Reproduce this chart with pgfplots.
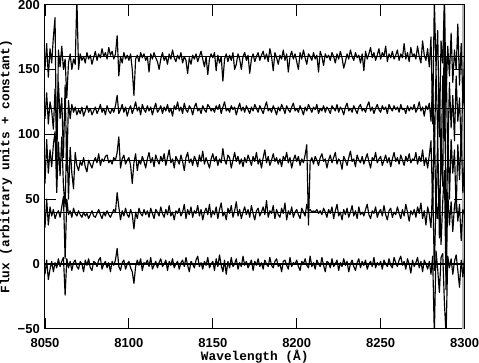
\documentclass[border=0pt]{standalone}
\usepackage{fontspec}
\usepackage{pgfplots}
\usepackage{pgfplotstable}
\pgfplotsset{compat=1.18}
\setmainfont{Liberation Sans}
\newfontfamily\labfont{Liberation Mono}
\newcommand\ticfont{\fontsize{13}{14}\selectfont\bfseries}
\newcommand\lblfont{\fontsize{12.8}{14}\labfont\bfseries}

\pgfplotstableread{
x s0 s1 s2 s3 s4
8050 -8 28 62 112 150
8051 3 50 96 132 170
8052 -12 30 70 108 144
8053 -4 44 88 125 166
8054 2 37 75 118 155
8055 -6 42 92 104 175
8056 1 35 102 135 190
8057 -3 39 55 95 72
8058 4 41 94 140 165
8059 -2 36 68 112 152
8060 2 44 98 128 168
8061 5 52 60 82 150
8062 -24 4 44 138 158
8063 4 50 102 72 128
8064 -3 38 50 126 155
8065 2 41 90 112 162
8066 -5 36 70 123 150
8067 1 43 58 117 158
8068 3 39 86 121 154
8069 -2 37 76 115 205
8070 -4 41 72 119 150
8071 2 38 79 116 162
8072 0 36 76 121 157
8073 -6 40 82 114 160
8074 3 37 75 118 155
8075 -1 39 71 122 163
8076 4 35 80 117 158
8077 -3 38 77 120 161
8078 -5 41 74 115 154
8079 2 37 79 118 159
8080 1 36 82 121 164
8081 -2 39 78 116 157
8082 3 42 85 119 162
8083 5 38 76 123 159
8084 -4 35 81 117 166
8085 0 40 79 120 160
8086 2 37 83 115 163
8087 -3 41 84 122 158
8088 1 38 78 118 167
8089 -6 36 80 116 161
8090 2 39 77 120 164
8091 -1 42 82 117 158
8092 3 40 80 122 162
8093 12 55 86 130 176
8094 -2 44 98 116 145
8095 -5 34 74 119 160
8096 1 41 81 123 155
8097 3 37 84 117 163
8098 -4 43 77 121 158
8099 0 38 80 114 161
8100 2 36 82 119 157
8101 -3 42 76 122 162
8102 -6 38 62 116 150
8103 -15 27 78 120 130
8104 -2 40 85 125 158
8105 3 35 72 118 161
8106 -1 43 80 121 156
8107 4 39 77 115 163
8108 -5 37 83 123 159
8109 1 42 79 119 162
8110 0 38 74 117 157
8111 3 41 81 122 160
8112 -2 36 86 118 148
8113 5 43 78 121 162
8114 -4 39 82 115 158
8115 -1 35 75 120 163
8116 2 42 84 124 159
8117 -3 40 80 117 156
8118 1 37 77 119 150
8119 4 44 83 122 158
8120 -2 39 79 116 163
8121 0 36 85 121 157
8122 3 42 76 118 160
8123 -5 38 82 123 154
8124 2 45 88 117 162
8125 -1 37 78 120 158
8126 4 40 81 114 165
8127 -3 34 74 122 159
8128 0 41 83 119 156
8129 2 39 80 125 161
8130 -4 43 77 118 158
8131 1 37 84 121 163
8132 3 40 79 116 155
8133 -2 46 72 124 160
8134 5 35 82 119 157
8135 -1 42 86 117 147
8136 -6 38 78 122 159
8137 2 44 81 120 154
8138 0 36 76 115 161
8139 -3 41 83 121 158
8140 3 39 80 124 162
8141 6 45 75 118 156
8142 -2 37 84 120 160
8143 1 42 79 116 164
8144 -4 34 87 122 158
8145 2 40 77 119 152
8146 -1 43 82 117 160
8147 5 38 78 123 146
8148 -3 46 74 121 158
8149 0 36 81 118 162
8150 2 41 85 120 159
8151 -5 38 79 117 163
8152 4 44 83 122 149
8153 -2 35 76 119 161
8154 7 42 81 123 155
8155 -1 47 78 116 160
8156 -6 37 89 121 141
8157 3 40 80 125 158
8158 -8 34 77 118 162
8159 2 43 84 120 156
8160 -3 39 82 117 161
8161 5 45 74 122 157
8162 -2 36 80 119 163
8163 0 41 86 121 150
8164 4 48 79 115 154
8165 -4 37 83 120 162
8166 1 42 77 124 158
8167 -2 35 81 118 150
8168 6 40 75 121 160
8169 -1 44 82 117 163
8170 2 38 78 122 157
8171 -3 42 84 119 161
8172 0 36 80 116 147
8173 3 45 76 121 158
8174 -5 39 83 118 162
8175 2 34 79 123 156
8176 -1 41 86 120 160
8177 4 43 77 117 163
8178 -2 37 81 122 157
8179 1 40 74 119 161
8180 -4 44 82 116 164
8181 3 38 88 121 158
8182 0 49 78 125 162
8183 -2 36 83 118 156
8184 5 41 76 120 166
8185 -1 39 80 117 160
8186 -3 45 85 122 149
8187 2 35 79 119 163
8188 4 42 82 115 159
8189 -2 38 77 121 154
8190 0 36 81 118 161
8191 -6 43 75 123 158
8192 2 39 83 120 165
8193 3 47 80 116 157
8194 -1 34 86 122 162
8195 -4 41 78 119 148
8196 5 38 82 117 160
8197 -2 44 74 121 164
8198 1 36 80 124 158
8199 0 40 84 118 162
8200 3 42 79 120 156
8201 -2 38 83 117 150
8202 -5 35 76 122 163
8203 2 43 81 119 158
8204 0 40 78 115 165
8205 4 37 84 121 159
8206 -1 46 92 118 154
8207 -3 41 30 123 162
8208 6 42 79 120 160
8209 -2 40 82 117 157
8210 1 41 77 121 163
8211 -4 40 83 119 158
8212 3 42 80 123 161
8213 0 39 76 116 148
8214 -2 41 82 120 164
8215 5 38 85 118 160
8216 -1 43 79 122 153
8217 -6 40 81 117 162
8218 2 36 74 121 159
8219 1 42 80 119 161
8220 -3 39 84 116 157
8221 4 44 78 122 163
8222 -2 35 82 120 160
8223 0 41 86 118 155
8224 3 46 77 123 162
8225 -5 37 81 117 158
8226 1 40 79 121 164
8227 -2 34 73 119 159
8228 4 42 83 115 151
8229 -1 38 80 121 156
8230 2 43 76 124 162
8231 -6 36 82 118 158
8232 0 40 87 120 165
8233 3 45 79 117 160
8234 -2 37 81 122 157
8235 -5 41 75 119 163
8236 1 35 84 116 159
8237 4 44 80 121 161
8238 -3 38 78 123 155
8239 2 40 83 118 162
8240 -1 37 77 120 149
8241 3 42 81 117 164
8242 -4 46 85 122 158
8243 0 38 79 125 162
8244 2 35 74 118 167
8245 -2 41 82 121 159
8246 5 39 80 116 163
8247 -3 44 86 120 157
8248 1 36 78 123 161
8249 -1 40 81 119 166
8250 2 42 83 117 158
8251 -4 37 76 122 163
8252 3 45 80 119 160
8253 0 38 84 121 168
8254 -2 34 78 116 156
8255 4 41 82 123 162
8256 -1 43 75 120 159
8257 -3 36 81 118 164
8258 5 40 86 122 158
8259 1 38 79 119 161
8260 -2 44 82 121 165
8261 3 39 77 117 157
8262 6 35 84 123 162
8263 -1 42 80 119 159
8264 2 37 76 120 170
8265 -4 46 83 116 158
8266 4 40 79 122 163
8267 0 33 85 118 156
8268 -7 41 78 121 167
8269 3 38 81 119 160
8270 -2 42 80 123 162
8271 1 36 86 117 158
8272 5 44 77 120 168
8273 -3 39 83 125 160
8274 2 47 79 118 155
8275 -6 35 88 121 172
8276 3 41 76 114 161
8277 0 30 82 122 157
8278 -4 44 74 119 166
8279 2 38 84 124 152
8280 -8 28 95 110 175
8281 6 62 45 140 108
8282 -55 -5 110 85 205
8283 10 50 35 150 150
8284 -4 35 100 100 180
8285 -22 58 20 135 98
8286 5 15 92 70 172
8287 8 48 60 145 155
8288 -30 72 200 95 205
8289 -55 -20 -10 160 130
8290 6 55 105 80 168
8291 -3 30 50 140 145
8292 4 48 96 105 178
8293 -8 25 70 130 140
8294 2 45 88 95 165
8295 7 52 40 145 150
8296 -5 33 92 110 185
8297 -18 46 65 128 138
8298 3 18 100 90 170
8299 -10 42 55 135 125
8300 4 38 82 120 160
}\spec

\begin{document}
\begin{tikzpicture}
\begin{axis}[
  width=418bp, height=323bp, scale only axis,
  xmin=8050, xmax=8300, ymin=-50, ymax=200,
  xtick={8050,8100,...,8300},
  ytick={-50,0,50,100,150,200},
  yticklabels={−50,0,50,100,150,200},
  xticklabels={8050,8100,8150,8200,8250,8300},
  tick align=inside,
  major tick length=11bp,
  minor tick num=0,
  tick style={black, line width=0.9bp},
  axis line style={black, line width=1bp},
  tick label style={font=\ticfont},
  /pgf/number format/assume math mode=true,
  xticklabel style={inner sep=0pt, yshift=-9bp},
  yticklabel style={inner sep=0pt, xshift=-5bp},
  xlabel={Wavelength (Å)},
  ylabel={Flux (arbitrary units + constant)},
  label style={font=\lblfont, inner sep=0pt},
  xlabel style={at={(rel axis cs:0.5,-0.064)}, anchor=north},
  ylabel style={at={(rel axis cs:-0.1077,0.5)}, anchor=north},
  clip=true,
]
\draw[gray!60, line width=2.5bp] (rel axis cs:0.996,0) -- (rel axis cs:0.996,1);
\addplot[black, line width=1.1bp] coordinates {(8050,0) (8300,0)};
\addplot[black, line width=1.1bp] coordinates {(8050,40) (8300,40)};
\addplot[black, line width=1.1bp] coordinates {(8050,80) (8300,80)};
\addplot[black, line width=1.1bp] coordinates {(8050,120) (8300,120)};
\addplot[black, line width=1.1bp] coordinates {(8050,160) (8300,160)};
\addplot[black, line width=1.15bp, line join=round] table[x=x, y=s0] {\spec};
\addplot[black, line width=1.15bp, line join=round] table[x=x, y=s1] {\spec};
\addplot[black, line width=1.15bp, line join=round] table[x=x, y=s2] {\spec};
\addplot[black, line width=1.15bp, line join=round] table[x=x, y=s3] {\spec};
\addplot[black, line width=1.15bp, line join=round] table[x=x, y=s4] {\spec};
\end{axis}
\end{tikzpicture}
\end{document}
